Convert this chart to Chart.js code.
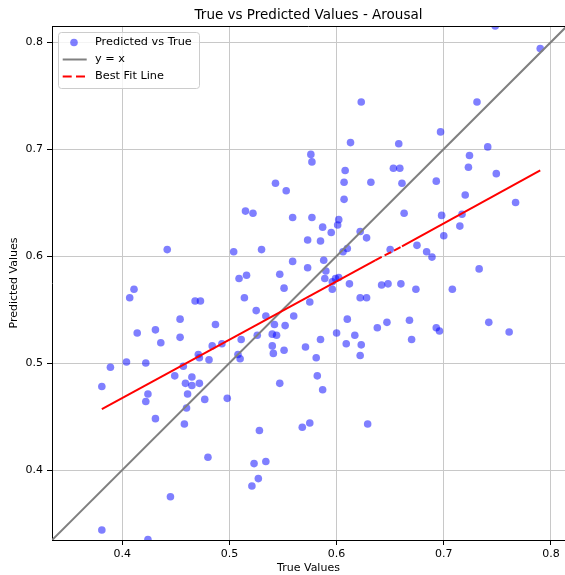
<!DOCTYPE html>
<html><head><meta charset="utf-8">
<script src="https://cdn.jsdelivr.net/npm/chart.js@4"></script>
<style>html,body{margin:0;padding:0;background:#fff}canvas{display:block}</style>
</head><body>
<canvas id="c" width="565" height="575"></canvas>
<script>
const trueValues = [
0.748,0.790,0.623,0.731,0.697,0.613,0.658,0.741,0.576,0.577,
0.724,0.653,0.659,0.723,0.608,0.749,0.607,0.632,0.661,0.693,
0.543,0.553,0.720,0.607,0.767,0.515,0.522,0.559,0.577,0.663,
0.698,0.717,0.602,0.601,0.587,0.595,0.622,0.628,0.715,0.700,
0.573,0.585,0.442,0.504,0.530,0.610,0.606,0.650,0.675,0.684,
0.689,0.559,0.588,0.573,0.547,0.590,0.589,0.596,0.599,0.602,
0.733,0.509,0.516,0.551,0.411,0.596,0.612,0.642,0.648,0.660,
0.674,0.708,0.407,0.468,0.473,0.514,0.575,0.622,0.628,0.525,
0.534,0.560,0.454,0.487,0.542,0.552,0.610,0.638,0.647,0.668,
0.693,0.696,0.742,0.761,0.414,0.431,0.454,0.436,0.540,0.544,
0.526,0.600,0.617,0.585,0.511,0.493,0.484,0.540,0.541,0.551,
0.571,0.609,0.623,0.670,0.471,0.472,0.481,0.508,0.510,0.581,
0.622,0.404,0.422,0.389,0.457,0.449,0.465,0.459,0.465,0.472,
0.381,0.424,0.422,0.461,0.477,0.498,0.460,0.431,0.458,0.547,
0.582,0.587,0.568,0.575,0.629,0.528,0.480,0.523,0.534,0.527,
0.521,0.445,0.381,0.424
];
const predictedValues = [
0.815,0.794,0.744,0.744,0.716,0.706,0.705,0.702,0.695,0.688,
0.694,0.682,0.682,0.683,0.680,0.677,0.669,0.669,0.668,0.670,
0.668,0.661,0.657,0.653,0.650,0.642,0.640,0.636,0.636,0.640,
0.638,0.639,0.634,0.629,0.627,0.622,0.623,0.617,0.628,0.619,
0.615,0.614,0.606,0.604,0.606,0.607,0.604,0.606,0.610,0.604,
0.599,0.595,0.596,0.589,0.583,0.586,0.579,0.576,0.579,0.580,
0.588,0.579,0.582,0.570,0.569,0.569,0.574,0.573,0.574,0.574,
0.569,0.569,0.561,0.558,0.558,0.561,0.557,0.561,0.561,0.549,
0.544,0.544,0.541,0.536,0.536,0.535,0.541,0.533,0.538,0.540,
0.533,0.530,0.538,0.529,0.528,0.531,0.524,0.519,0.527,0.526,
0.526,0.528,0.526,0.522,0.522,0.518,0.516,0.516,0.509,0.512,
0.515,0.518,0.517,0.522,0.508,0.505,0.503,0.508,0.504,0.505,
0.507,0.501,0.500,0.496,0.497,0.488,0.487,0.481,0.479,0.481,
0.478,0.471,0.464,0.471,0.466,0.467,0.458,0.448,0.443,0.481,
0.488,0.475,0.440,0.444,0.443,0.437,0.412,0.406,0.408,0.392,
0.385,0.375,0.344,0.335
];
const identityEnds = [0.3346, 0.8150];
const fitX = [0.381, 0.636, 0.661, 0.790];
const fitY = [0.457, 0.596, 0.609, 0.680];
const xTicks = [0.4, 0.5, 0.6, 0.7, 0.8];
const yTicks = [0.4, 0.5, 0.6, 0.7, 0.8];
const xTickLabels = ['0.4', '0.5', '0.6', '0.7', '0.8'];
const yTickLabels = ['0.4', '0.5', '0.6', '0.7', '0.8'];
const xRange = [0.3345, 0.8131];
const yRange = [0.3346, 0.8150];
const titleText = 'True vs Predicted Values - Arousal';
const xTitle = 'True Values';
const yTitle = 'Predicted Values';
const seriesLabels = ['Predicted vs True', 'y = x', 'Best Fit Line'];

const FONT = "'DejaVu Sans', sans-serif";
const POINT_COLOR = 'rgba(0,0,255,0.5)';
const DASH = [7.4, 3.2];

const scatterData = trueValues.map((v, i) => ({x: v, y: predictedValues[i]}));
const identityData = identityEnds.map(v => ({x: v, y: v}));
const fitData = fitX.map((v, i) => ({x: v, y: fitY[i]}));

const decor = {
  id: 'decor',
  afterDraw(chart) {
    const {ctx, chartArea: a} = chart;
    ctx.save();
    ctx.strokeStyle = '#000';
    ctx.lineWidth = 1;
    ctx.beginPath();
    ctx.moveTo(a.left, Math.round(a.top) + 0.5);
    ctx.lineTo(a.right, Math.round(a.top) + 0.5);
    ctx.stroke();
    ctx.fillStyle = '#000';
    ctx.font = '13.5px ' + FONT;
    ctx.textAlign = 'center';
    ctx.textBaseline = 'middle';
    ctx.fillText(titleText, 308.5, 15.5);
    const bx = 58.5, by = 32.5, bw = 141, bh = 56, r = 3;
    ctx.beginPath();
    ctx.moveTo(bx + r, by);
    ctx.lineTo(bx + bw - r, by);
    ctx.quadraticCurveTo(bx + bw, by, bx + bw, by + r);
    ctx.lineTo(bx + bw, by + bh - r);
    ctx.quadraticCurveTo(bx + bw, by + bh, bx + bw - r, by + bh);
    ctx.lineTo(bx + r, by + bh);
    ctx.quadraticCurveTo(bx, by + bh, bx, by + bh - r);
    ctx.lineTo(bx, by + r);
    ctx.quadraticCurveTo(bx, by, bx + r, by);
    ctx.closePath();
    ctx.fillStyle = 'rgba(255,255,255,0.8)';
    ctx.fill();
    ctx.strokeStyle = '#cccccc';
    ctx.lineWidth = 1;
    ctx.stroke();
    const rows = [42.5, 59.5, 76.5];
    ctx.fillStyle = POINT_COLOR;
    ctx.beginPath();
    ctx.arc(74, rows[0], 3.8, 0, Math.PI * 2);
    ctx.fill();
    ctx.strokeStyle = '#808080';
    ctx.lineWidth = 2;
    ctx.beginPath();
    ctx.moveTo(62.7, rows[1]);
    ctx.lineTo(86.7, rows[1]);
    ctx.stroke();
    ctx.strokeStyle = '#ff0000';
    ctx.setLineDash([9, 4.3]);
    ctx.beginPath();
    ctx.moveTo(62.7, rows[2]);
    ctx.lineTo(86.7, rows[2]);
    ctx.stroke();
    ctx.setLineDash([]);
    ctx.fillStyle = '#000';
    ctx.font = '11.3px ' + FONT;
    ctx.textAlign = 'left';
    ctx.textBaseline = 'middle';
    seriesLabels.forEach((t, i) => ctx.fillText(t, 95, rows[i]));
    ctx.restore();
  }
};

new Chart(document.getElementById('c'), {
  type: 'scatter',
  data: {
    datasets: [
      {
        label: seriesLabels[0],
        data: scatterData,
        pointRadius: 3.8,
        pointHoverRadius: 3.8,
        pointBackgroundColor: POINT_COLOR,
        pointBorderWidth: 0,
        pointBorderColor: 'rgba(0,0,0,0)',
        clip: 0,
        order: 3
      },
      {
        label: seriesLabels[1],
        data: identityData,
        showLine: true,
        pointRadius: 0,
        pointHoverRadius: 0,
        borderColor: '#808080',
        borderWidth: 2,
        fill: false,
        clip: 0,
        order: 2
      },
      {
        label: seriesLabels[2],
        data: fitData,
        showLine: true,
        pointRadius: 0,
        pointHoverRadius: 0,
        borderColor: '#ff0000',
        borderWidth: 2,
        borderDash: DASH,
        segment: {
          borderDash: c => (c.p0DataIndex === 1 ? DASH : [])
        },
        fill: false,
        clip: 0,
        order: 1
      }
    ]
  },
  options: {
    responsive: false,
    animation: false,
    devicePixelRatio: 1,
    events: [],
    layout: {autoPadding: false, padding: {top: 26, left: 0, right: 0, bottom: 0}},
    plugins: {legend: {display: false}, title: {display: false}, tooltip: {enabled: false}},
    scales: {
      x: {
        type: 'linear',
        position: 'bottom',
        min: xRange[0],
        max: xRange[1],
        afterBuildTicks: s => { s.ticks = xTicks.map(v => ({value: v})); },
        afterFit: s => { s.height = 35; s.paddingLeft = 0; s.paddingRight = 0; },
        ticks: {
          callback: (v) => { const i = xTicks.findIndex(t => Math.abs(t - v) < 1e-9); return i >= 0 ? xTickLabels[i] : ''; },
          font: {family: FONT, size: 11},
          color: '#000',
          padding: 3,
          maxRotation: 0,
          autoSkip: false
        },
        grid: {color: '#c8c8c8', lineWidth: 1, drawTicks: true, tickLength: 5, tickColor: '#000', tickWidth: 1},
        border: {display: true, color: '#000', width: 1},
        title: {display: true, text: xTitle, font: {family: FONT, size: 11}, color: '#000', padding: {top: 0, bottom: 0}}
      },
      y: {
        type: 'linear',
        position: 'left',
        min: yRange[0],
        max: yRange[1],
        afterBuildTicks: s => { s.ticks = yTicks.map(v => ({value: v})); },
        afterFit: s => { s.width = 52; s.paddingTop = 0; s.paddingBottom = 0; },
        ticks: {
          callback: (v) => { const i = yTicks.findIndex(t => Math.abs(t - v) < 1e-9); return i >= 0 ? yTickLabels[i] : ''; },
          font: {family: FONT, size: 11},
          color: '#000',
          padding: 4,
          autoSkip: false
        },
        grid: {color: '#c8c8c8', lineWidth: 1, drawTicks: true, tickLength: 5, tickColor: '#000', tickWidth: 1},
        border: {display: true, color: '#000', width: 1},
        title: {display: true, text: yTitle, font: {family: FONT, size: 11}, color: '#000', padding: {top: 8, bottom: 0}}
      }
    }
  },
  plugins: [decor]
});
</script>
</body></html>
